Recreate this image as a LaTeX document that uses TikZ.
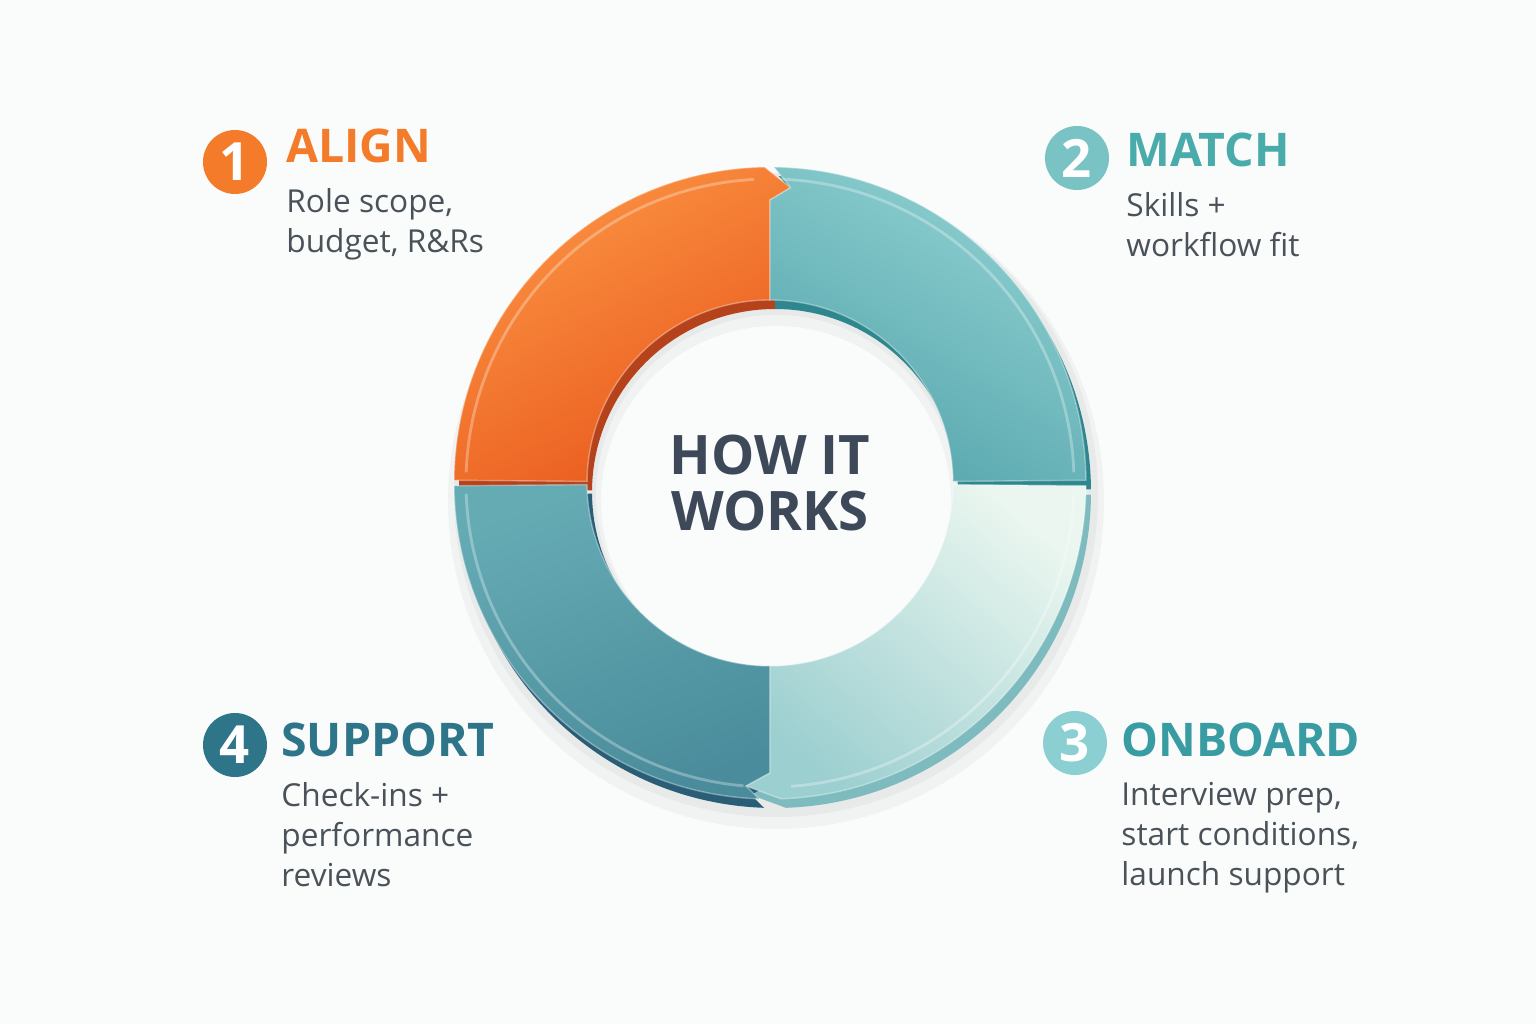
\documentclass[tikz,border=0pt]{standalone}
\usepackage{fontspec}
\setmainfont{Open Sans}
\usepackage{xcolor}
\usepackage{tikz}
\definecolor{bgwhite}{HTML}{FAFBFB}
\definecolor{alignorange}{HTML}{F47B2A}
\definecolor{orangelight}{HTML}{FB9443}
\definecolor{orangedark}{HTML}{E9581C}
\definecolor{orangeside}{HTML}{B5421A}
\definecolor{matchteal}{HTML}{4AABAB}
\definecolor{teallight}{HTML}{8FD0D1}
\definecolor{tealdark}{HTML}{56A6AD}
\definecolor{tealside}{HTML}{2E878E}
\definecolor{mintlight}{HTML}{EAF6EF}
\definecolor{mintdark}{HTML}{9CCFD0}
\definecolor{mintside}{HTML}{7DBBBF}
\definecolor{supportteal}{HTML}{2F7589}
\definecolor{deeplight}{HTML}{65ABB4}
\definecolor{deepdark}{HTML}{4A8C9B}
\definecolor{deepside}{HTML}{2A5E77}
\definecolor{onboardteal}{HTML}{3A9CA3}
\definecolor{numthree}{HTML}{8CCFD2}
\definecolor{numtwo}{HTML}{79C3C5}
\definecolor{bodygray}{HTML}{4A5259}
\definecolor{centerslate}{HTML}{3D4859}
\usetikzlibrary{positioning, calc}

\begin{document}
\begin{tikzpicture}[
          every node/.style = {inner sep=0pt},
          num/.style = {circle, minimum size=0.64cm, text=white,
                        font=\fontsize{15}{15}\selectfont\bfseries},
          title/.style = {anchor=west, font=\fontsize{13.2}{13.2}\selectfont\bfseries},
          body/.style = {align=left, text=bodygray,
                         font=\fontsize{9}{11.4}\selectfont},
          side/.style = {shift={(0.05,-0.09)}},
          face/.style = {draw=white, draw opacity=0.35, line width=0.4pt},
          gloss/.style = {white, opacity=0.3, line width=0.8pt},
        ]
        %% Canvas
        \fill[bgwhite] (0,0) rectangle (15.36,10.24);
        \useasboundingbox (0,0) rectangle (15.36,10.24);

        %% Ring
        \coordinate (C) at (7.70,5.41);
        \begin{scope}[shift={(C)}]
          % soft shadow
          \fill[black, opacity=0.035, even odd rule] (0.06,-0.18) circle (3.28) (0.06,-0.18) circle (1.75);
          \fill[black, opacity=0.035, even odd rule] (0.06,-0.12) circle (3.22) (0.06,-0.12) circle (1.80);
          % sides
          \fill[orangeside, side] (179.5:1.83) -- (179.5:3.16) arc[start angle=179.5, end angle=91, radius=3.16]
            -- (86:2.96) -- (90:2.83) -- (90:1.83) arc[start angle=90, end angle=179.5, radius=1.83] -- cycle;
          \fill[tealside, side] (90:1.83) -- (90:2.83) -- (86:2.96) -- (89.3:3.16)
            arc[start angle=89.3, end angle=0.5, radius=3.16] -- (0.5:1.83) arc[start angle=0.5, end angle=90, radius=1.83] -- cycle;
          \fill[deepside, side] (-90:1.83) -- (-90:2.90) -- (-94.5:3.04) -- (-92:3.16)
            arc[start angle=-92, end angle=-179.5, radius=3.16] -- (-179.5:1.83) arc[start angle=180.5, end angle=270, radius=1.83] -- cycle;
          \fill[mintside, side] (-0.5:3.16) arc[start angle=-0.5, end angle=-88, radius=3.16]
            -- (-94.5:3.04) -- (-90:2.90) -- (-90:1.83) arc[start angle=-90, end angle=-0.5, radius=1.83] -- cycle;
          % faces
          \shade[face, top color=orangelight, bottom color=orangedark, shading angle=30]
            (179.5:1.83) -- (179.5:3.16) arc[start angle=179.5, end angle=91, radius=3.16]
            -- (86:2.96) -- (90:2.83) -- (90:1.83) arc[start angle=90, end angle=179.5, radius=1.83] -- cycle;
          \shade[face, top color=teallight, bottom color=tealdark, shading angle=-30]
            (90:1.83) -- (90:2.83) -- (86:2.96) -- (89.3:3.16)
            arc[start angle=89.3, end angle=0.5, radius=3.16] -- (0.5:1.83) arc[start angle=0.5, end angle=90, radius=1.83] -- cycle;
          \shade[face, top color=deeplight, bottom color=deepdark, shading angle=20]
            (-90:1.83) -- (-90:2.90) -- (-94.5:3.04) -- (-92:3.16)
            arc[start angle=-92, end angle=-179.5, radius=3.16] -- (-179.5:1.83) arc[start angle=180.5, end angle=270, radius=1.83] -- cycle;
          \shade[face, top color=mintlight, bottom color=mintdark, shading angle=-40]
            (-0.5:3.16) arc[start angle=-0.5, end angle=-88, radius=3.16]
            -- (-94.5:3.04) -- (-90:2.90) -- (-90:1.83) arc[start angle=-90, end angle=-0.5, radius=1.83] -- cycle;
          % bevel highlights
          \draw[gloss] (178:3.04) arc[start angle=178, end angle=93, radius=3.04];
          \draw[gloss] (88:3.04) arc[start angle=88, end angle=2, radius=3.04];
          \draw[gloss] (-2:3.04) arc[start angle=-2, end angle=-86, radius=3.04];
          \draw[gloss] (-95:3.04) arc[start angle=-95, end angle=-178, radius=3.04];
        \end{scope}

        %% Centre
        \node[text=centerslate, align=center, font=\fontsize{15.5}{16}\selectfont\bfseries] (hub) at (C) {HOW IT\\WORKS};

        %% Steps
        \node[num, fill=alignorange] (n1) at (2.35,8.62) {1};
        \node[title, text=alignorange, right=0.18cm of n1, yshift=0.16cm] (t1) {ALIGN};
        \node[body, below=0.24cm of t1.south west, anchor=north west] (b1) {Role scope,\\budget, R\&Rs};

        \node[num, fill=numtwo] (n2) at (10.77,8.66) {2};
        \node[title, text=matchteal, right=0.16cm of n2, yshift=0.08cm] (t2) {MATCH};
        \node[body, below=0.24cm of t2.south west, anchor=north west] (b2) {Skills +\\workflow fit};

        \node[num, fill=numthree] (n3) at (10.75,2.81) {3};
        \node[title, text=onboardteal, right=0.13cm of n3, yshift=0.03cm] (t3) {ONBOARD};
        \node[body, below=0.24cm of t3.south west, anchor=north west] (b3) {Interview prep,\\start conditions,\\launch support};

        \node[num, fill=supportteal] (n4) at (2.35,2.79) {4};
        \node[title, text=supportteal, right=0.13cm of n4, yshift=0.05cm] (t4) {SUPPORT};
        \node[body, below=0.24cm of t4.south west, anchor=north west] (b4) {Check-ins +\\performance\\reviews};
      \end{tikzpicture}
\end{document}
